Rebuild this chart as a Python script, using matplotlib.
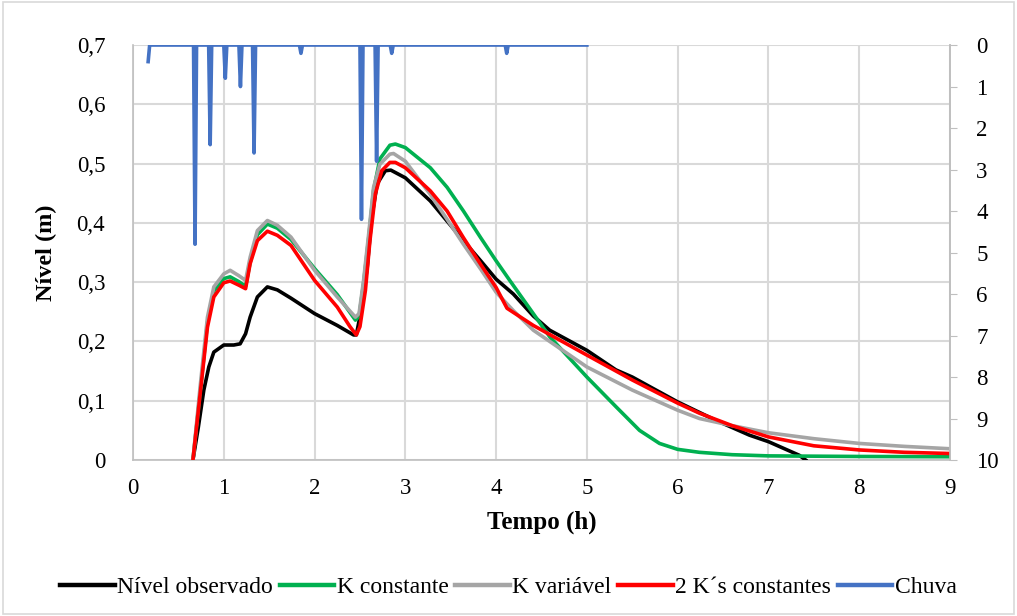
import numpy as np
import matplotlib
matplotlib.use("Agg")
import matplotlib.pyplot as plt
from matplotlib.patches import Rectangle

plt.rcParams['font.family'] = ['Liberation Serif', 'DejaVu Serif']

# Nível observado
t_obs = [0.66, 0.72, 0.78, 0.835, 0.89, 1.00, 1.11, 1.18, 1.24, 1.29, 1.37,
         1.48, 1.59, 1.74, 2.00, 2.25, 2.43, 2.46, 2.52, 2.58, 2.63, 2.69,
         2.78, 2.84, 3.00, 3.275, 3.46, 3.64, 3.83, 4.00, 4.19, 4.41, 4.59,
         5.00, 5.32, 5.50, 5.69, 6.00, 6.42, 6.79, 7.00, 7.34, 7.41]
h_obs = [0.0, 0.056, 0.118, 0.157, 0.182, 0.194, 0.194, 0.196, 0.213, 0.241,
         0.275, 0.292, 0.287, 0.273, 0.247, 0.227, 0.211, 0.211, 0.258, 0.325,
         0.41, 0.466, 0.488, 0.489, 0.476, 0.437, 0.403, 0.37, 0.336, 0.305,
         0.28, 0.243, 0.219, 0.185, 0.152, 0.14, 0.124, 0.098, 0.067, 0.042,
         0.031, 0.008, 0.0]

# K constante
t_kc = [0.66, 0.74, 0.82, 0.89, 1.00, 1.07, 1.165, 1.24, 1.29, 1.37, 1.48,
        1.59, 1.74, 2.00, 2.25, 2.45, 2.49, 2.54, 2.60, 2.65, 2.72, 2.83, 2.89,
        3.00, 3.275, 3.46, 3.64, 3.83, 4.00, 4.15, 4.59, 5.00, 5.32, 5.58,
        5.80, 6.00, 6.24, 6.60, 7.00, 8.00, 9.00]
h_kc = [0.0, 0.115, 0.232, 0.285, 0.306, 0.309, 0.301, 0.293, 0.333, 0.38,
        0.398, 0.391, 0.372, 0.323, 0.279, 0.236, 0.242, 0.298, 0.38, 0.455,
        0.508, 0.531, 0.533, 0.527, 0.493, 0.46, 0.42, 0.375, 0.336, 0.303,
        0.208, 0.14, 0.09, 0.05, 0.028, 0.018, 0.013, 0.009, 0.007, 0.006,
        0.0055]

# K variável
t_kv = [0.66, 0.74, 0.82, 0.89, 1.00, 1.07, 1.165, 1.24, 1.29, 1.37, 1.48,
        1.59, 1.74, 2.00, 2.25, 2.45, 2.49, 2.54, 2.60, 2.65, 2.72, 2.83, 2.87,
        3.00, 3.275, 3.46, 3.64, 3.83, 4.00, 4.19, 4.41, 5.00, 5.50, 6.00,
        6.24, 6.60, 7.00, 7.50, 8.00, 8.50, 9.00]
h_kv = [0.0, 0.125, 0.241, 0.292, 0.314, 0.32, 0.311, 0.303, 0.342, 0.387,
        0.404, 0.396, 0.376, 0.32, 0.275, 0.241, 0.247, 0.303, 0.387, 0.46,
        0.499, 0.516, 0.517, 0.504, 0.448, 0.406, 0.364, 0.322, 0.283, 0.252,
        0.219, 0.157, 0.118, 0.084, 0.07, 0.058, 0.046, 0.036, 0.028, 0.023,
        0.019]

# 2 K´s constantes
t_2k = [0.66, 0.74, 0.82, 0.89, 1.00, 1.07, 1.165, 1.24, 1.29, 1.37, 1.48,
        1.59, 1.74, 2.00, 2.25, 2.39, 2.46, 2.50, 2.56, 2.61, 2.67, 2.74, 2.83,
        2.89, 3.00, 3.275, 3.46, 3.64, 3.83, 4.00, 4.12, 4.41, 5.00, 5.50,
        6.00, 6.24, 6.60, 7.00, 7.50, 8.00, 8.50, 9.00]
h_2k = [0.0, 0.112, 0.224, 0.275, 0.299, 0.302, 0.295, 0.289, 0.331, 0.37,
        0.386, 0.379, 0.362, 0.303, 0.258, 0.225, 0.211, 0.225, 0.286, 0.37,
        0.449, 0.488, 0.502, 0.502, 0.493, 0.454, 0.42, 0.375, 0.33, 0.291,
        0.256, 0.227, 0.177, 0.135, 0.096, 0.079, 0.058, 0.039, 0.024, 0.017,
        0.013, 0.011]

# Chuva (mm), minute record from 10 to 300 min, zero except these minutes
chuva_min = [10, 41, 51, 61, 71, 80, 111, 151, 161, 171, 247]
chuva_mm = [0.4, 4.8, 2.4, 0.8, 1.0, 2.6, 0.2, 4.2, 2.8, 0.2, 0.2]
minutes = np.arange(10, 301)
chuva = np.zeros(len(minutes))
for m, v in zip(chuva_min, chuva_mm):
    chuva[m - 10] = v
t_chuva = minutes / 60.0

x_ticks = list(range(0, 10))
y_ticks = [0, 0.1, 0.2, 0.3, 0.4, 0.5, 0.6, 0.7]
y_labels = ['0', '0,1', '0,2', '0,3', '0,4', '0,5', '0,6', '0,7']
y2_ticks = list(range(0, 11))

fig = plt.figure(figsize=(10.17, 6.16), dpi=100)
ax = fig.add_axes([0.1308, 0.2532, 0.8033, 0.6737])

grid_c = '#d9d9d9'
lw = 2.6
l1, = ax.plot(t_obs, h_obs, color='black', lw=lw, label='Nível observado', zorder=3)
l2, = ax.plot(t_kc, h_kc, color='#00b050', lw=lw, label='K constante', zorder=3)
l3, = ax.plot(t_kv, h_kv, color='#a5a5a5', lw=lw, label='K variável', zorder=3)
l4, = ax.plot(t_2k, h_2k, color='#ff0000', lw=lw, label='2 K´s constantes', zorder=4)

ax.set_xlim(0, 9)
ax.set_ylim(0, 0.7)
ax.set_xticks(x_ticks)
ax.set_xticklabels([str(x) for x in x_ticks])
ax.set_yticks(y_ticks)
ax.set_yticklabels(y_labels)
ax.grid(True, color=grid_c, lw=1.5, zorder=0)
ax.set_axisbelow(True)
ax.tick_params(axis='y', length=0, labelsize=16.5, pad=20)
ax.tick_params(axis='x', length=0, labelsize=16.5, pad=13)
for s in ax.spines.values():
    s.set_color('#bfbfbf')
    s.set_linewidth(1.2)
ax.spines['top'].set_visible(False)

ax2 = ax.twinx()
l5, = ax2.plot(t_chuva, chuva, color='#4472c4', lw=2.6, label='Chuva')
ax2.set_ylim(10, 0)
ax2.set_yticks(y2_ticks)
ax2.tick_params(axis='y', length=5, color='#bfbfbf', labelsize=16.5, pad=14)
for s in ax2.spines.values():
    s.set_visible(False)
ax2.spines['right'].set_visible(True)
ax2.spines['right'].set_color('#bfbfbf')
ax2.spines['right'].set_linewidth(1.2)

ax.set_xlabel('Tempo (h)', fontsize=18, fontweight='bold', labelpad=8)
ax.set_ylabel('Nível (m)', fontsize=17.5, fontweight='bold', labelpad=14)

leg = fig.legend(handles=[l1, l2, l3, l4, l5], loc='center', ncol=5,
                 bbox_to_anchor=(0.5, 0.047), frameon=False, fontsize=17,
                 handlelength=2.3, handletextpad=0.1, columnspacing=0.3)
for h in leg.legend_handles:
    h.set_linewidth(3.2)

fig.patches.append(Rectangle((0.003, 0.004), 0.994, 0.992, transform=fig.transFigure,
                             fill=False, edgecolor='#d9d9d9', lw=1.2))

fig.savefig('out.png', dpi=100)
